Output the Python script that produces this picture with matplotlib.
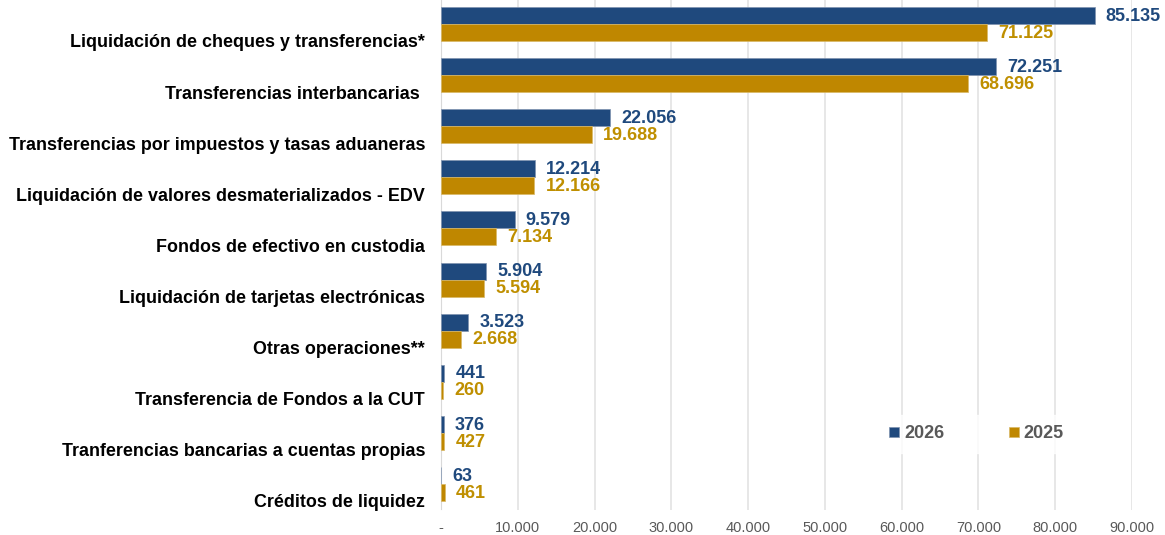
import matplotlib.pyplot as plt
import numpy as np

plt.rcParams['font.family'] = ['Liberation Sans', 'DejaVu Sans']

categories = ['Liquidación de cheques y transferencias*',
              'Transferencias interbancarias ',
              'Transferencias por impuestos y tasas aduaneras',
              'Liquidación de valores desmaterializados - EDV',
              'Fondos de efectivo en custodia',
              'Liquidación de tarjetas electrónicas',
              'Otras operaciones**',
              'Transferencia de Fondos a la CUT',
              'Tranferencias bancarias a cuentas propias',
              'Créditos de liquidez']
vals_2026 = [85135, 72251, 22056, 12214, 9579, 5904, 3523, 441, 376, 63]
vals_2025 = [71125, 68696, 19688, 12166, 7134, 5594, 2668, 260, 427, 461]
x_ticks = [0, 10000, 20000, 30000, 40000, 50000, 60000, 70000, 80000, 90000]

navy = '#1F497D'
gold = '#BF8700'
gold_txt = '#BF8F00'
grey = '#595959'


def fmt(v):
    if v == 0:
        return '-'
    return f'{v:,}'.replace(',', '.')


fig = plt.figure(figsize=(11.65, 5.35), dpi=100)
ax = fig.add_axes([441 / 1165, 25.5 / 535, 691 / 1165, 511 / 535])

y = np.arange(len(categories))
h = 1 / 3
ax.barh(y - h / 2, vals_2026, height=h, color=navy, edgecolor='#7f93b0',
        linewidth=0.5, label='2026', zorder=3)
ax.barh(y + h / 2, vals_2025, height=h, color=gold, edgecolor='#d9b866',
        linewidth=0.5, label='2025', zorder=3)

# data labels next to bar ends
for yi, v in zip(y, vals_2026):
    ax.annotate(fmt(v), (v, yi - h / 2), xytext=(8, -0.5), textcoords='offset points',
                ha='left', va='center', fontsize=13, fontweight='bold',
                color=navy, annotation_clip=False)
for yi, v in zip(y, vals_2025):
    ax.annotate(fmt(v), (v, yi + h / 2), xytext=(8, -0.5), textcoords='offset points',
                ha='left', va='center', fontsize=13, fontweight='bold',
                color=gold_txt, annotation_clip=False)

ax.set_xlim(0, 90000)
ax.set_ylim(len(categories) - 0.5, -0.5)
ax.set_xticks(x_ticks)
ax.set_xticklabels([fmt(t) for t in x_ticks], fontsize=10.5, color=grey)
ax.set_yticks(y + 0.33)
ax.set_yticklabels(categories, fontsize=12.9, fontweight='bold', color='black')
ax.tick_params(axis='y', length=0, pad=11.5)
ax.tick_params(axis='x', length=0, pad=8)

ax.xaxis.grid(True, color='#e3e3e3', linewidth=1.2, zorder=0)
for s in ['top', 'right', 'bottom']:
    ax.spines[s].set_visible(False)
ax.spines['left'].set_color('#d9d9d9')
ax.spines['left'].set_zorder(2)

leg = ax.legend(loc='center', bbox_to_anchor=(0.775, 0.148), ncol=2,
                frameon=True, fancybox=False, edgecolor='white',
                handlelength=0.55, handleheight=0.55, handletextpad=0.25,
                columnspacing=3.6, borderpad=0.6,
                prop={'size': 13, 'weight': 'bold'})
leg.get_frame().set_facecolor('white')
for t in leg.get_texts():
    t.set_color(grey)

fig.savefig('out.png', dpi=100)
